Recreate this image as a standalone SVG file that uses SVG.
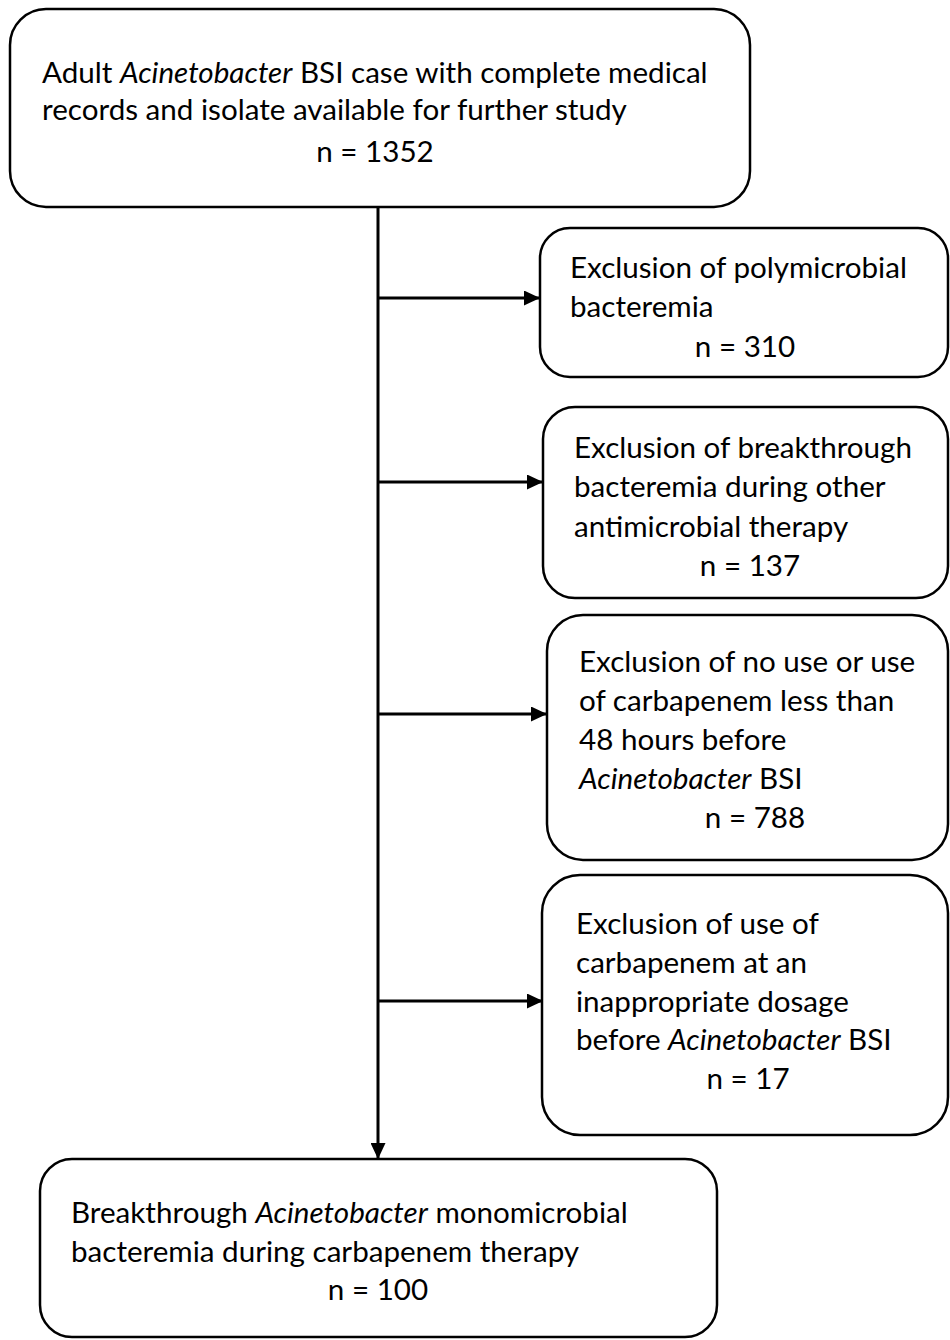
<svg xmlns="http://www.w3.org/2000/svg" width="950" height="1340" viewBox="0 0 950 1340">
<defs>
<marker id="ah" markerWidth="16" markerHeight="15" refX="15" refY="7.5" orient="auto" markerUnits="userSpaceOnUse" viewBox="0 0 16 15">
<path d="M0,0 L16,7.5 L0,15 z" fill="#000"/>
</marker>
<style>
.box{fill:#fff;stroke:#000;stroke-width:2.5}
.t{font-family:Lato,"Liberation Sans",sans-serif;font-size:29.6px;fill:#000}
.c{text-anchor:middle}
.i{font-style:italic}
.ln{stroke:#000;stroke-width:3;fill:none}
</style>
</defs>
<rect width="950" height="1340" fill="#fff"/>
<g id="connectors">
<line class="ln" x1="378" y1="207" x2="378" y2="1158" marker-end="url(#ah)"/>
<line class="ln" x1="378" y1="298" x2="539" y2="298" marker-end="url(#ah)"/>
<line class="ln" x1="378" y1="482" x2="542" y2="482" marker-end="url(#ah)"/>
<line class="ln" x1="378" y1="714" x2="546" y2="714" marker-end="url(#ah)"/>
<line class="ln" x1="378" y1="1001" x2="542" y2="1001" marker-end="url(#ah)"/>
</g>
<g id="start">
<rect class="box" x="10" y="9" width="740" height="198" rx="36"/>
<text class="t" x="42" y="83">Adult <tspan class="i">Acinetobacter</tspan> BSI case with complete medical</text>
<text class="t" x="42" y="120">records and isolate available for further study</text>
<text class="t c" x="375" y="162">n = 1352</text>
</g>
<g id="excl1">
<rect class="box" x="540" y="228" width="408" height="149" rx="30"/>
<text class="t" x="570" y="278">Exclusion of polymicrobial</text>
<text class="t" x="570" y="317">bacteremia</text>
<text class="t c" x="745" y="357">n = 310</text>
</g>
<g id="excl2">
<rect class="box" x="543" y="407" width="405" height="191" rx="32"/>
<text class="t" x="574" y="458">Exclusion of breakthrough</text>
<text class="t" x="574" y="497">bacteremia during other</text>
<text class="t" x="574" y="537">antimicrobial therapy</text>
<text class="t c" x="750" y="576">n = 137</text>
</g>
<g id="excl3">
<rect class="box" x="547" y="615" width="401" height="245" rx="36"/>
<text class="t" x="579" y="672">Exclusion of no use or use</text>
<text class="t" x="579" y="711">of carbapenem less than</text>
<text class="t" x="579" y="750">48 hours before</text>
<text class="t" x="579" y="789"><tspan class="i">Acinetobacter</tspan> BSI</text>
<text class="t c" x="755" y="828">n = 788</text>
</g>
<g id="excl4">
<rect class="box" x="542" y="875" width="406" height="260" rx="38"/>
<text class="t" x="576" y="934">Exclusion of use of</text>
<text class="t" x="576" y="973">carbapenem at an</text>
<text class="t" x="576" y="1012">inappropriate dosage</text>
<text class="t" x="576" y="1050">before <tspan class="i">Acinetobacter</tspan> BSI</text>
<text class="t c" x="748" y="1089">n = 17</text>
</g>
<g id="final">
<rect class="box" x="40" y="1159" width="677" height="178" rx="32"/>
<text class="t" x="71" y="1223">Breakthrough <tspan class="i">Acinetobacter</tspan> monomicrobial</text>
<text class="t" x="71" y="1262">bacteremia during carbapenem therapy</text>
<text class="t c" x="378" y="1300">n = 100</text>
</g>
</svg>
